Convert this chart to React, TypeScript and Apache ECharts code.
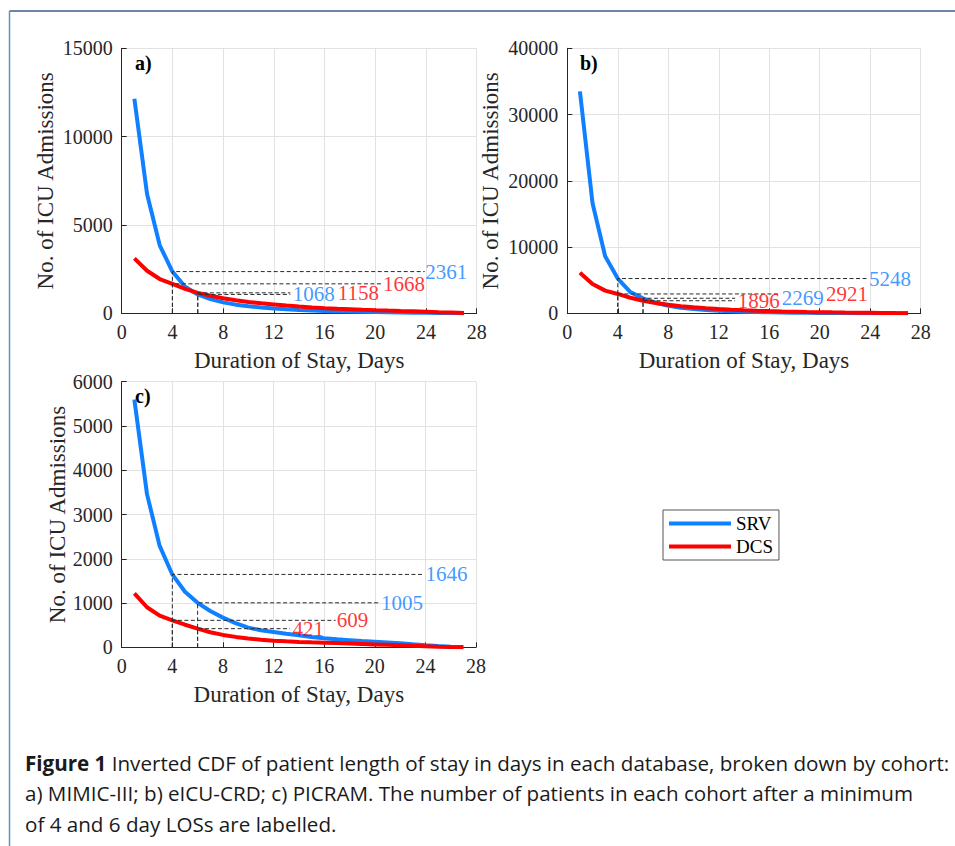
import React, { useEffect, useRef } from "react";
import * as echarts from "echarts";

// ---------- data ----------
const days = [1, 2, 3, 4, 5, 6, 7, 8, 9, 10, 11, 12, 13, 14, 15, 16, 17, 18, 19, 20, 21, 22, 23, 24, 25, 26, 27];

// a) MIMIC-III
const srvA = [12150, 6750, 3850, 2361, 1500, 1068, 800, 620, 490, 400, 330, 272, 226, 190, 160, 135, 115, 98, 82, 70, 58, 47, 37, 28, 19, 10, 3];
const dcsA = [3110, 2410, 1940, 1668, 1380, 1158, 990, 850, 735, 640, 565, 500, 435, 380, 330, 290, 258, 230, 200, 175, 152, 130, 110, 90, 65, 45, 20];
// b) eICU-CRD
const srvB = [33500, 16600, 8600, 5248, 3200, 2269, 1600, 1150, 850, 640, 490, 380, 300, 240, 190, 150, 120, 95, 75, 58, 45, 34, 25, 17, 10, 5, 2];
const dcsB = [6130, 4420, 3420, 2921, 2350, 1896, 1560, 1300, 1080, 900, 760, 640, 540, 460, 390, 330, 280, 240, 200, 170, 140, 115, 92, 70, 50, 30, 12];
// c) PICRAM
const srvC = [5600, 3460, 2290, 1646, 1256, 1005, 820, 670, 545, 445, 385, 345, 305, 270, 235, 205, 180, 160, 140, 125, 108, 90, 68, 48, 30, 15, 5];
const dcsC = [1220, 904, 714, 609, 510, 421, 340, 280, 235, 200, 172, 150, 135, 122, 112, 104, 95, 85, 75, 65, 55, 45, 35, 25, 15, 8, 3];

// minimum LOS thresholds and labelled counts [day4, day6]
const thresholdDays = [4, 6];
const marksSrvA = [2361, 1068];
const marksDcsA = [1668, 1158];
const marksSrvB = [5248, 2269];
const marksDcsB = [2921, 1896];
const marksSrvC = [1646, 1005];
const marksDcsC = [609, 421];

const xTicks = { min: 0, max: 28, interval: 4 };
const yTicksA = { min: 0, max: 15000, interval: 5000 };
const yTicksB = { min: 0, max: 40000, interval: 10000 };
const yTicksC = { min: 0, max: 6000, interval: 1000 };

const panelLetters = ["a)", "b)", "c)"];
const seriesNames = ["SRV", "DCS"];
const xTitle = "Duration of Stay, Days";
const yTitle = "No. of ICU Admissions";
const captionLines = [
  "{b|Figure 1} Inverted CDF of patient length of stay in days in each database, broken down by cohort:",
  "a) MIMIC-III; b) eICU-CRD; c) PICRAM. The number of patients in each cohort after a minimum",
  "of 4 and 6 day LOSs are labelled.",
];

// ---------- layout (annotation line ends / label x, in days; order SRV4, SRV6, DCS4, DCS6) ----------
const annLayout = [
  { lineEnd: [23.9, 13.3, 20.6, 13.3], labelX: [23.95, 13.5, 20.6, 17.05] },
  { lineEnd: [23.9, 13.3, 16.9, 13.3], labelX: [23.9, 17.0, 20.5, 13.5] },
  { lineEnd: [23.8, 20.4, 16.9, 13.3], labelX: [24.0, 20.5, 17.0, 13.5] },
];
const grids = [
  { left: 121.7, top: 48.3, width: 355, height: 265 },
  { left: 567.3, top: 48.3, width: 353.4, height: 265 },
  { left: 121.7, top: 381.7, width: 354.3, height: 265.6 },
];

const BLUE = "#0f80ff";
const RED = "#ff0000";
const SERIF = "Liberation Serif, Times New Roman, serif";
const AX = "#262626";
const CAP_FONT = "Open Sans";

export default function App() {
  const ref = useRef<HTMLDivElement>(null);
  useEffect(() => {
    if (!ref.current) return;
    const chart = echarts.init(ref.current, undefined, { renderer: "svg" });
    const panels = [
      { srv: srvA, dcs: dcsA, ms: marksSrvA, md: marksDcsA, y: yTicksA, nameGap: 65 },
      { srv: srvB, dcs: dcsB, ms: marksSrvB, md: marksDcsB, y: yTicksB, nameGap: 65 },
      { srv: srvC, dcs: dcsC, ms: marksSrvC, md: marksDcsC, y: yTicksC, nameGap: 52 },
    ];
    const xAxis: any[] = [];
    const yAxis: any[] = [];
    const series: any[] = [];
    panels.forEach((p, i) => {
      xAxis.push({
        type: "value", gridIndex: i, ...xTicks,
        name: xTitle, nameLocation: "middle", nameGap: 36,
        nameTextStyle: { fontFamily: SERIF, fontSize: 23, color: AX },
        axisLine: { show: true, onZero: false, lineStyle: { color: AX, width: 1 } },
        axisTick: { show: true, inside: true, length: 5, lineStyle: { color: AX } },
        axisLabel: { fontFamily: SERIF, fontSize: 20, color: AX, margin: 9, showMinLabel: true, showMaxLabel: true },
        splitLine: { show: true, lineStyle: { color: "#e2e2e2", width: 1 } },
      });
      yAxis.push({
        type: "value", gridIndex: i, ...p.y,
        name: yTitle, nameLocation: "middle", nameGap: p.nameGap,
        nameTextStyle: { fontFamily: SERIF, fontSize: 23, color: AX },
        axisLine: { show: true, lineStyle: { color: AX, width: 1 } },
        axisTick: { show: true, inside: true, length: 5, lineStyle: { color: AX } },
        axisLabel: {
          fontFamily: SERIF, fontSize: 20, color: AX, margin: 9, showMinLabel: true, showMaxLabel: true,
          formatter: (v: number) => String(v),
        },
        splitLine: { show: true, lineStyle: { color: "#e2e2e2", width: 1 } },
      });
      series.push({
        type: "line", name: seriesNames[0], xAxisIndex: i, yAxisIndex: i,
        data: days.map((d, j) => [d, p.srv[j]]), symbol: "none",
        lineStyle: { color: BLUE, width: 4 }, itemStyle: { color: BLUE }, z: 3,
      });
      series.push({
        type: "line", name: seriesNames[1], xAxisIndex: i, yAxisIndex: i,
        data: days.map((d, j) => [d, p.dcs[j]]), symbol: "none",
        lineStyle: { color: RED, width: 4 }, itemStyle: { color: RED }, z: 4,
      });
      const vals = [p.ms[0], p.ms[1], p.md[0], p.md[1]];
      const dayOf = [thresholdDays[0], thresholdDays[1], thresholdDays[0], thresholdDays[1]];
      const cols = [BLUE, BLUE, RED, RED];
      vals.forEach((v, k) => {
        const d = dayOf[k];
        series.push({
          type: "line", xAxisIndex: i, yAxisIndex: i, silent: true, symbol: "none",
          data: [[d, 0], [d, v], [annLayout[i].lineEnd[k], v]],
          lineStyle: { color: "#2a2a2a", width: 1, type: [4, 2.5] }, z: 5,
        });
      });
      series.push({
        type: "scatter", xAxisIndex: i, yAxisIndex: i, silent: true, symbolSize: 0,
        data: vals.map((v, k) => ({
          value: [annLayout[i].labelX[k], v],
          label: { color: cols[k] },
        })),
        label: {
          show: true, position: "right", distance: 0,
          formatter: (q: any) => String(q.value[1]),
          fontFamily: SERIF, fontSize: 21,
        },
        z: 6,
      });
    });

    const graphic: any[] = [
      { type: "line", shape: { x1: 9.5, y1: 11, x2: 955, y2: 11 }, style: { stroke: "#3d5c90", lineWidth: 1.5 } },
      { type: "line", shape: { x1: 9.5, y1: 11, x2: 9.5, y2: 846 }, style: { stroke: "#6a8cc0", lineWidth: 1.5 } },
      { type: "text", left: 135, top: 53, style: { text: panelLetters[0], font: `bold 20px ${SERIF}`, fill: "#000" } },
      { type: "text", left: 580, top: 53, style: { text: panelLetters[1], font: `bold 20px ${SERIF}`, fill: "#000" } },
      { type: "text", left: 135, top: 386, style: { text: panelLetters[2], font: `bold 20px ${SERIF}`, fill: "#000" } },
    ];
    captionLines.forEach((t, k) => {
      graphic.push({
        type: "text", left: 25, top: 752 + k * 30.5,
        style: {
          text: t, fontFamily: CAP_FONT, fontSize: 20.6, fill: "#1a1a1a",
          rich: { b: { fontFamily: CAP_FONT, fontSize: 20.6, fontWeight: "bold", fill: "#1a1a1a" } },
        },
      });
    });

    chart.setOption({
      animation: false,
      backgroundColor: "#fff",
      grid: grids.map((g) => ({ ...g, containLabel: false })),
      xAxis, yAxis, series,
      legend: {
        data: seriesNames, orient: "vertical", left: 663, top: 510,
        padding: [3, 6, 3, 6], itemGap: 2, itemWidth: 62, itemHeight: 4, icon: "rect",
        borderColor: "#555", borderWidth: 1, backgroundColor: "#fff", selectedMode: false,
        textStyle: { fontFamily: SERIF, fontSize: 19, color: "#000", lineHeight: 21 },
      },
      graphic,
    });
    return () => chart.dispose();
  }, []);
  return <div ref={ref} style={{ position: "absolute", left: 0, top: 0, width: 955, height: 846 }} />;
}
